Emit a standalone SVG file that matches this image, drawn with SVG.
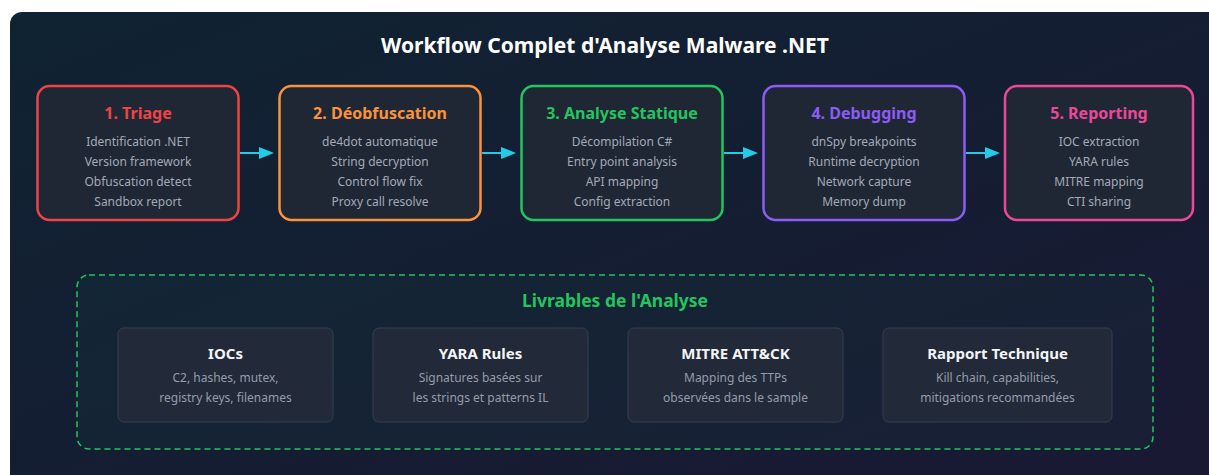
<svg xmlns="http://www.w3.org/2000/svg" width="1209" height="475" viewBox="0 0 1209 475">
  <defs>
    <linearGradient id="bg" x1="0" y1="0" x2="1" y2="1">
      <stop offset="0" stop-color="#0f2332"/>
      <stop offset="1" stop-color="#1a1833"/>
    </linearGradient>
    <marker id="arr" viewBox="0 0 15 12" markerWidth="15" markerHeight="12" refX="0" refY="6" orient="auto" markerUnits="userSpaceOnUse">
      <path d="M0,0 L15,6 L0,12 z" fill="#22cce8"/>
    </marker>
    <style>
      text { font-family: "Noto Sans", "Open Sans", sans-serif; text-anchor: middle; }
      .title { font-size: 21px; font-weight: 700; fill: #ffffff; }
      .step { fill: #1f2735; stroke-width: 2.5; }
      .stitle { font-size: 16px; font-weight: 700; }
      .line { font-size: 12px; fill: #a3aab6; }
      .card { fill: #222938; stroke: #374151; stroke-width: 1; }
      .ctitle { font-size: 15px; font-weight: 700; fill: #f3f4f6; }
      .cline { font-size: 12px; fill: #949cab; }
      .conn { stroke: #22cce8; stroke-width: 2; fill: none; }
    </style>
  </defs>
  <rect x="0" y="0" width="1209" height="475" fill="#ffffff"/>
  <rect x="10" y="12" width="1230" height="490" rx="12" fill="url(#bg)"/>
  <text class="title" x="605" y="53">Workflow Complet d'Analyse Malware .NET</text>

  <g id="node-triage">
    <rect class="step" x="37.5" y="86" width="201" height="134" rx="12" stroke="#ef4444"/>
    <text class="stitle" x="138" y="119" fill="#ef4444">1. Triage</text>
    <text class="line" x="138" y="146">Identification .NET</text>
    <text class="line" x="138" y="166">Version framework</text>
    <text class="line" x="138" y="186">Obfuscation detect</text>
    <text class="line" x="138" y="206">Sandbox report</text>
  </g>
  <g id="node-deobf">
    <rect class="step" x="279.5" y="86" width="201" height="134" rx="12" stroke="#fb923c"/>
    <text class="stitle" x="380" y="119" fill="#fb923c">2. Déobfuscation</text>
    <text class="line" x="380" y="146">de4dot automatique</text>
    <text class="line" x="380" y="166">String decryption</text>
    <text class="line" x="380" y="186">Control flow fix</text>
    <text class="line" x="380" y="206">Proxy call resolve</text>
  </g>
  <g id="node-static">
    <rect class="step" x="521.5" y="86" width="201" height="134" rx="12" stroke="#22c55e"/>
    <text class="stitle" x="622" y="119" fill="#22c55e">3. Analyse Statique</text>
    <text class="line" x="622" y="146">Décompilation C#</text>
    <text class="line" x="622" y="166">Entry point analysis</text>
    <text class="line" x="622" y="186">API mapping</text>
    <text class="line" x="622" y="206">Config extraction</text>
  </g>
  <g id="node-debug">
    <rect class="step" x="763.5" y="86" width="201" height="134" rx="12" stroke="#8b5cf6"/>
    <text class="stitle" x="864" y="119" fill="#8b5cf6">4. Debugging</text>
    <text class="line" x="864" y="146">dnSpy breakpoints</text>
    <text class="line" x="864" y="166">Runtime decryption</text>
    <text class="line" x="864" y="186">Network capture</text>
    <text class="line" x="864" y="206">Memory dump</text>
  </g>
  <g id="node-report">
    <rect class="step" x="1005" y="86" width="188" height="134" rx="12" stroke="#ec4899"/>
    <text class="stitle" x="1099" y="119" fill="#ec4899">5. Reporting</text>
    <text class="line" x="1099" y="146">IOC extraction</text>
    <text class="line" x="1099" y="166">YARA rules</text>
    <text class="line" x="1099" y="186">MITRE mapping</text>
    <text class="line" x="1099" y="206">CTI sharing</text>
  </g>

  <g id="connectors">
    <line class="conn" x1="240" y1="153" x2="259" y2="153" marker-end="url(#arr)"/>
    <line class="conn" x1="482" y1="153" x2="501" y2="153" marker-end="url(#arr)"/>
    <line class="conn" x1="724" y1="153" x2="743" y2="153" marker-end="url(#arr)"/>
    <line class="conn" x1="966" y1="153" x2="985" y2="153" marker-end="url(#arr)"/>
  </g>

  <g id="deliverables">
    <rect x="77" y="275" width="1076" height="174" rx="12" fill="#22c55e" fill-opacity="0.04" stroke="#22c55e" stroke-width="1.5" stroke-dasharray="6 4"/>
    <text x="615" y="307" font-size="17.5" font-weight="700" fill="#22c55e">Livrables de l'Analyse</text>
  </g>
  <g id="card-iocs">
    <rect class="card" x="118" y="328" width="215" height="94" rx="6"/>
    <text class="ctitle" x="225.5" y="359">IOCs</text>
    <text class="cline" x="225.5" y="382">C2, hashes, mutex,</text>
    <text class="cline" x="225.5" y="402">registry keys, filenames</text>
  </g>
  <g id="card-yara">
    <rect class="card" x="373" y="328" width="215" height="94" rx="6"/>
    <text class="ctitle" x="480.5" y="359">YARA Rules</text>
    <text class="cline" x="480.5" y="382">Signatures basées sur</text>
    <text class="cline" x="480.5" y="402">les strings et patterns IL</text>
  </g>
  <g id="card-mitre">
    <rect class="card" x="628" y="328" width="215" height="94" rx="6"/>
    <text class="ctitle" x="735.5" y="359">MITRE ATT&amp;CK</text>
    <text class="cline" x="735.5" y="382">Mapping des TTPs</text>
    <text class="cline" x="735.5" y="402">observées dans le sample</text>
  </g>
  <g id="card-rapport">
    <rect class="card" x="883" y="328" width="229" height="94" rx="6"/>
    <text class="ctitle" x="997.5" y="359">Rapport Technique</text>
    <text class="cline" x="997.5" y="382">Kill chain, capabilities,</text>
    <text class="cline" x="997.5" y="402">mitigations recommandées</text>
  </g>
</svg>
